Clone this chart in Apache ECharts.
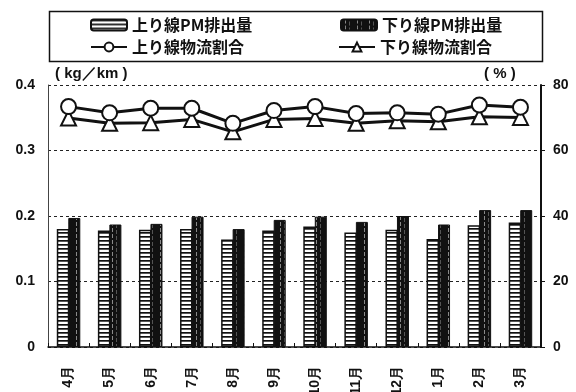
<!DOCTYPE html>
<html>
<head>
<meta charset="utf-8">
<script src="https://cdn.jsdelivr.net/npm/echarts@6/dist/echarts.min.js"></script>
<style>
  html, body { margin: 0; padding: 0; background: #fff; }
  #chart { width: 576px; height: 392px; }
</style>
</head>
<body>
<div id="chart"></div>
<script>
// Monthly PM emission (kg/km) and freight share (%) for the up and down lines
const months = ['4月', '5月', '6月', '7月', '8月', '9月', '10月', '11月', '12月', '1月', '2月', '3月'];
const upPM   = [0.180, 0.178, 0.179, 0.180, 0.164, 0.178, 0.184, 0.175, 0.179, 0.165, 0.186, 0.190];
const downPM = [0.197, 0.187, 0.188, 0.199, 0.180, 0.194, 0.199, 0.191, 0.200, 0.187, 0.209, 0.209];
const upShare   = [73.4, 71.5, 72.9, 72.9, 68.3, 72.2, 73.4, 71.3, 71.5, 71.1, 73.9, 73.2];
const downShare = [69.9, 68.3, 68.5, 69.5, 65.7, 69.5, 69.8, 68.3, 69.1, 68.8, 70.3, 70.1];

const leftTicks = { min: 0, max: 0.4, interval: 0.1 };
const rightTicks = { min: 0, max: 80, interval: 20 };

const names = ['上り線PM排出量', '下り線PM排出量', '上り線物流割合', '下り線物流割合'];

// Fill patterns: horizontal stripes for the up line, dark vertical hatching for the down line
function stripePattern() {
  const c = document.createElement('canvas');
  c.width = 8; c.height = 4;
  const g = c.getContext('2d');
  g.fillStyle = '#fff'; g.fillRect(0, 0, 8, 4);
  g.fillStyle = '#111'; g.fillRect(0, 0, 8, 1.7);
  return c;
}
function hatchPattern() {
  const c = document.createElement('canvas');
  c.width = 12; c.height = 6;
  const g = c.getContext('2d');
  g.fillStyle = '#111'; g.fillRect(0, 0, 12, 6);
  g.fillStyle = '#8a8a8a'; g.fillRect(4, 0, 1, 4);
  g.fillStyle = '#555'; g.fillRect(8, 2, 1, 4);
  return c;
}

const jp = '"Noto Sans CJK JP", sans-serif';
const num = '"Liberation Sans", Arial, sans-serif';

const chart = echarts.init(document.getElementById('chart'), null, { renderer: 'canvas' });

const legendBase = {
  padding: 0,
  itemWidth: 36,
  itemHeight: 11,
  itemGap: 5,
  textStyle: { fontFamily: jp, fontSize: 16, fontWeight: 'bold', color: '#111' },
  selectedMode: false
};

chart.setOption({
  animation: false,
  backgroundColor: '#fff',
  grid: { left: 48, right: 35, top: 85, bottom: 45, containLabel: false, outerBoundsMode: 'none' },
  legend: [
    Object.assign({}, legendBase, { data: [names[0]], left: 90, top: 17 }),
    Object.assign({}, legendBase, { data: [names[1]], left: 340, top: 17 }),
    Object.assign({}, legendBase, { data: [names[2]], left: 90, top: 39 }),
    Object.assign({}, legendBase, { data: [names[3]], left: 338, top: 39 })
  ],
  graphic: [
    { type: 'rect', left: 47, top: 9, shape: { width: 493, height: 50 },
      style: { fill: 'none', stroke: '#111', lineWidth: 1.5 }, z: 10 },
    { type: 'text', left: 55, top: 66,
      style: { text: '( kg／km )', font: 'bold 15px ' + num, fill: '#111' } },
    { type: 'text', left: 484, top: 66,
      style: { text: '( % )', font: 'bold 15px ' + num, fill: '#111' } }
  ],
  xAxis: {
    type: 'category',
    data: months,
    axisLine: { lineStyle: { color: '#111', width: 1.5 } },
    axisTick: { show: true, inside: true, length: 4, lineStyle: { color: '#111' } },
    axisLabel: {
      rotate: 90, margin: 19, fontFamily: num, fontSize: 14, fontWeight: 'bold', color: '#111'
    }
  },
  yAxis: [
    {
      type: 'value', min: leftTicks.min, max: leftTicks.max, interval: leftTicks.interval,
      axisLine: { show: true, lineStyle: { color: '#444', width: 1 } },
      axisTick: { show: false },
      axisLabel: {
        margin: 13, fontFamily: num, fontSize: 14, fontWeight: 'bold', color: '#111',
        formatter: v => (v === 0 ? '0' : v.toFixed(1))
      },
      splitLine: { show: true, lineStyle: { color: '#222', type: [3, 3], width: 1 } }
    },
    {
      type: 'value', min: rightTicks.min, max: rightTicks.max, interval: rightTicks.interval,
      position: 'right',
      axisLine: { show: true, lineStyle: { color: '#111', width: 2 } },
      axisTick: { show: true, length: 4, lineStyle: { color: '#111' } },
      axisLabel: { margin: 12, fontFamily: num, fontSize: 14, fontWeight: 'bold', color: '#111' },
      splitLine: { show: false }
    }
  ],
  series: [
    {
      name: names[0], type: 'bar', yAxisIndex: 0, data: upPM,
      barWidth: 12.5, barGap: '-8%',
      itemStyle: { color: { image: stripePattern(), repeat: 'repeat' }, borderColor: '#111', borderWidth: 1.5 }
    },
    {
      name: names[1], type: 'bar', yAxisIndex: 0, data: downPM,
      barWidth: 12,
      itemStyle: { color: { image: hatchPattern(), repeat: 'repeat' }, borderColor: '#111', borderWidth: 1 }
    },
    {
      name: names[3], type: 'line', yAxisIndex: 1, data: downShare,
      symbol: 'triangle', symbolSize: 15, z: 3,
      lineStyle: { color: '#111', width: 3 },
      itemStyle: { color: '#fff', borderColor: '#111', borderWidth: 2 }
    },
    {
      name: names[2], type: 'line', yAxisIndex: 1, data: upShare,
      symbol: 'circle', symbolSize: 15, z: 4,
      lineStyle: { color: '#111', width: 3 },
      itemStyle: { color: '#fff', borderColor: '#111', borderWidth: 2 }
    }
  ]
});
</script>
</body>
</html>
